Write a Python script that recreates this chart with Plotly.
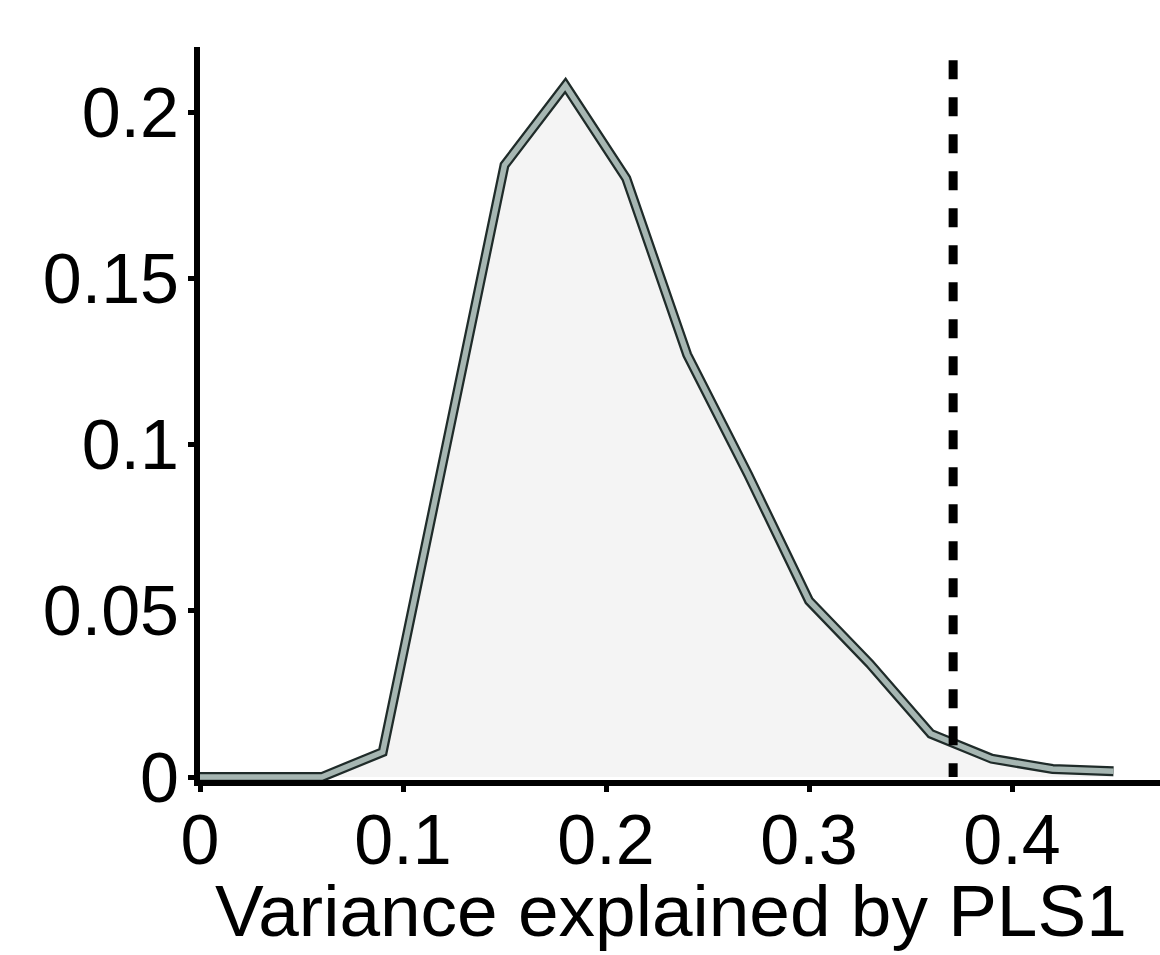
import plotly.graph_objects as go

# data
x_vals = [0, 0.03, 0.06, 0.09, 0.12, 0.15, 0.18, 0.21, 0.24, 0.27, 0.30, 0.33, 0.36, 0.39, 0.42, 0.45]
y_vals = [0, 0, 0, 0.0075, 0.095, 0.184, 0.208, 0.180, 0.127, 0.091, 0.053, 0.034, 0.013, 0.0055, 0.0024, 0.0017]
threshold = 0.371
x_ticks = [0, 0.1, 0.2, 0.3, 0.4]
x_tick_text = ["0", "0.1", "0.2", "0.3", "0.4"]
y_ticks = [0, 0.05, 0.1, 0.15, 0.2]
y_tick_text = ["0", "0.05", "0.1", "0.15", "0.2"]
x_title = "Variance explained by PLS1"

FONT = "Liberation Sans, Arial, Helvetica, sans-serif"

fig = go.Figure()
fig.add_trace(go.Scatter(x=x_vals, y=y_vals, mode="lines", fill="tozeroy",
                         fillcolor="#f4f4f4", line=dict(color="#1f2b29", width=10),
                         hoverinfo="skip", showlegend=False))
fig.add_trace(go.Scatter(x=x_vals, y=y_vals, mode="lines",
                         line=dict(color="#a6b6b2", width=5.5),
                         hoverinfo="skip", showlegend=False))

fig.add_shape(type="line", xref="x", yref="y", x0=threshold, x1=threshold,
              y0=0.2156, y1=0, line=dict(color="black", width=9, dash="19px,18px"))

fig.add_annotation(text=x_title, xref="paper", yref="paper", x=0.4906, y=-0.12,
                   xanchor="center", yanchor="top", showarrow=False,
                   font=dict(family=FONT, size=73, color="black"))

fig.update_layout(
    width=1160, height=955,
    margin=dict(l=200, r=0, t=47, b=175),
    paper_bgcolor="white", plot_bgcolor="white",
    font=dict(family=FONT, size=70, color="black"),
)
fig.update_xaxes(range=[0, 0.4729], tickvals=x_ticks, ticktext=x_tick_text,
                 showgrid=False, zeroline=False, showline=True, linewidth=6,
                 linecolor="black", ticks="outside", ticklen=6, tickwidth=5,
                 tickcolor="black", tickfont=dict(size=70), ticklabelstandoff=-12)
fig.update_yaxes(range=[-0.0009, 0.21955], tickvals=y_ticks, ticktext=y_tick_text,
                 showgrid=False, zeroline=False, showline=True, linewidth=6,
                 linecolor="black", ticks="outside", ticklen=6, tickwidth=5,
                 tickcolor="black", tickfont=dict(size=70), ticklabelstandoff=-5)

fig.write_html("out.html")
